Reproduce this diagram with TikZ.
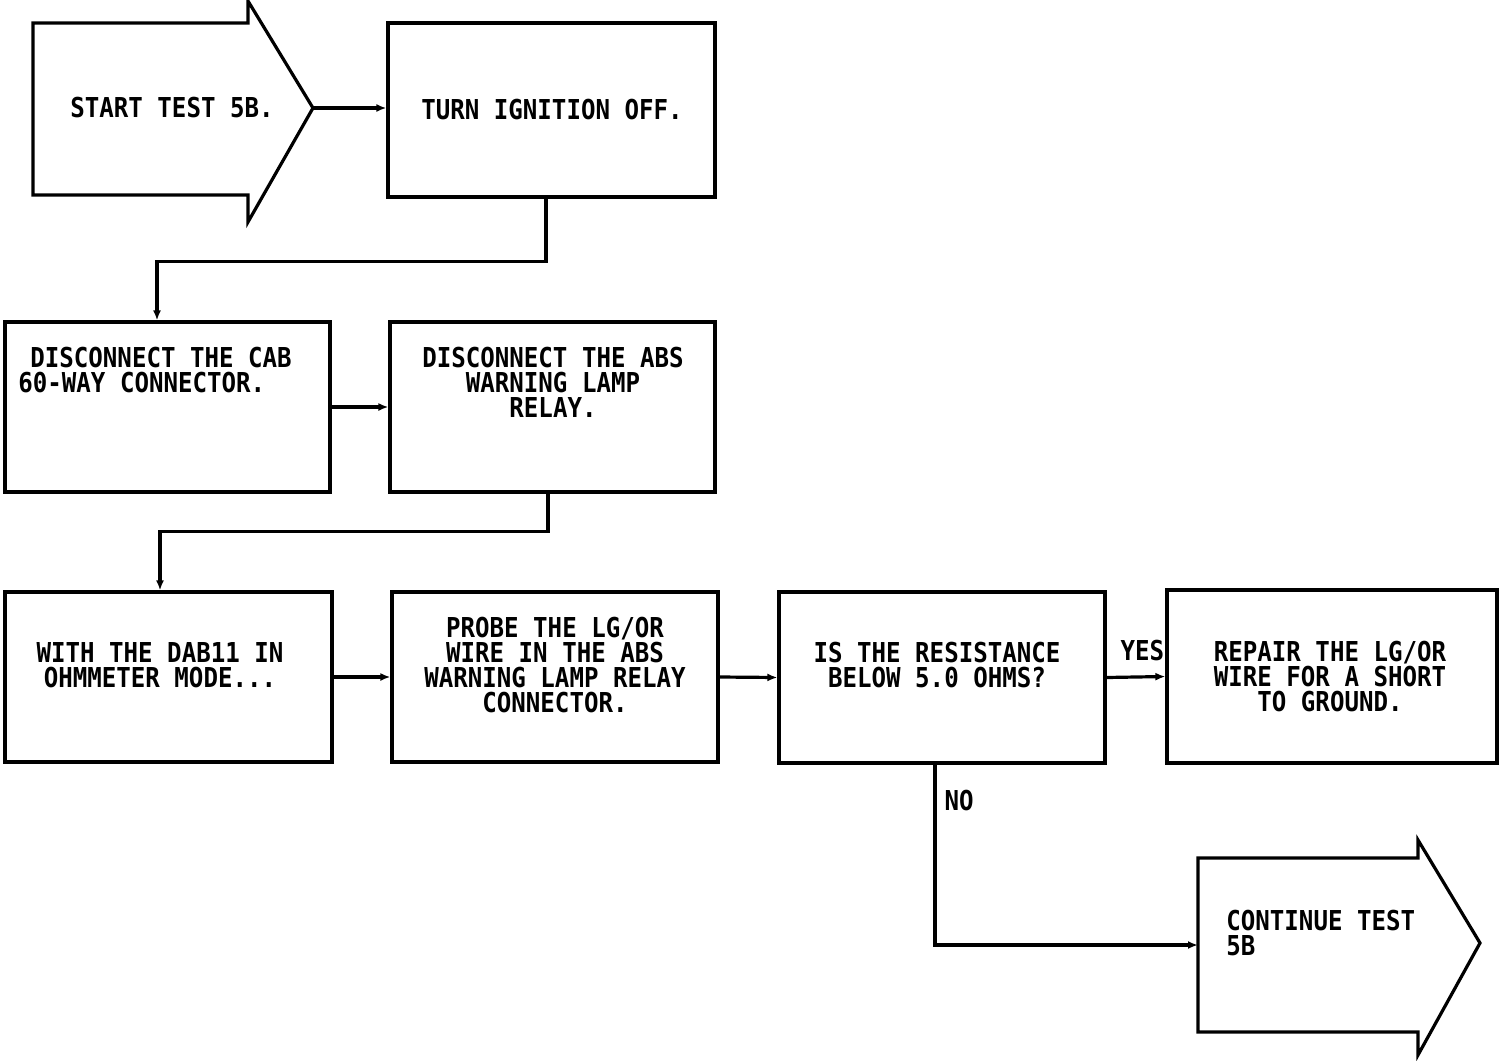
\documentclass[tikz,border=0pt]{standalone}
\usepackage{fontspec}
\newfontfamily\plotfont{DejaVu Sans Mono}[FakeStretch=0.88]
\usetikzlibrary{arrows.meta}
\begin{document}
\begin{tikzpicture}[x=0.5pt,y=-0.5pt,
  every node/.style={font=\plotfont\bfseries\fontsize{13.7}{12.5}\selectfont},
  box/.style={draw,line width=1.6pt,inner sep=0pt},
  txt/.style={inner sep=0pt,align=center},
  shp/.style={draw,line width=1.6pt,line join=miter},
  arr/.style={line width=1.6pt,-{Latex[length=5pt,width=4pt]}}]
\useasboundingbox (0,0) rectangle (1504,1060);
% start arrow
\draw[shp] (33,23) -- (248,23) -- (248,1) -- (313,108) -- (248,222) -- (248,195) -- (33,195) -- cycle;
\coordinate (starttip) at (313,108);
\node[txt] (starttxt) at (172,108) {START TEST 5B.};
% boxes
\node[box,minimum width=163.5pt,minimum height=87pt] (b2) at (551.5,110) {};
\node[txt] (t2) at (552,110) {TURN IGNITION OFF.};
\node[box,minimum width=162.5pt,minimum height=85pt] (b3) at (167.5,407) {};
\node[txt,align=left,anchor=west] (t3) at (18,370) {\hspace*{6pt}DISCONNECT THE CAB\\60-WAY CONNECTOR.};
\node[box,minimum width=162.5pt,minimum height=85pt] (b4) at (552.5,407) {};
\node[txt] (t4) at (553,382) {DISCONNECT THE ABS\\WARNING LAMP\\RELAY.};
\node[box,minimum width=163.5pt,minimum height=85pt] (b5) at (168.5,677) {};
\node[txt] (t5) at (160,665) {WITH THE DAB11 IN\\OHMMETER MODE...};
\node[box,minimum width=163pt,minimum height=85pt] (b6) at (555,677) {};
\node[txt] (t6) at (555,665) {PROBE THE LG/OR\\WIRE IN THE ABS\\WARNING LAMP RELAY\\CONNECTOR.};
\node[box,minimum width=163pt,minimum height=85.5pt] (b7) at (942,677.5) {};
\node[txt] (t7) at (937,665) {IS THE RESISTANCE\\BELOW 5.0 OHMS?};
\node[box,minimum width=165pt,minimum height=86.5pt] (b8) at (1332,676.5) {};
\node[txt] (t8) at (1330,677) {REPAIR THE LG/OR\\WIRE FOR A SHORT\\TO GROUND.};
% continue arrow
\draw[shp] (1198,858) -- (1418,858) -- (1418,840) -- (1480,943) -- (1418,1055) -- (1418,1032) -- (1198,1032) -- cycle;
\coordinate (contin) at (1198,945);
\node[txt,align=left,anchor=west] (t9) at (1226,933) {CONTINUE TEST\\5B};
% connectors
\draw[arr] (starttip) -- (starttip -| b2.west);
\draw[arr] ([xshift=-2.75pt]b2.south) -- ++(0,63) -| ([xshift=-5.25pt]b3.north);
\draw[arr] (b3.east) -- (b4.west);
\draw[arr] ([xshift=-2.25pt]b4.south) -- ++(0,38) -| ([xshift=-4.25pt]b5.north);
\draw[arr] (b5.east) -- (b6.west);
\draw[arr] (b6.east) -- (b7.west);
\draw[arr] (b7.east) -- (b8.west) node[pos=0.61,above=7pt,inner sep=0pt] (yes) {YES};
\draw[arr] ([xshift=-3.5pt]b7.south) |- (contin) node[pos=0.1,right=4pt,inner sep=0pt] (no) {NO};
\end{tikzpicture}
\end{document}
